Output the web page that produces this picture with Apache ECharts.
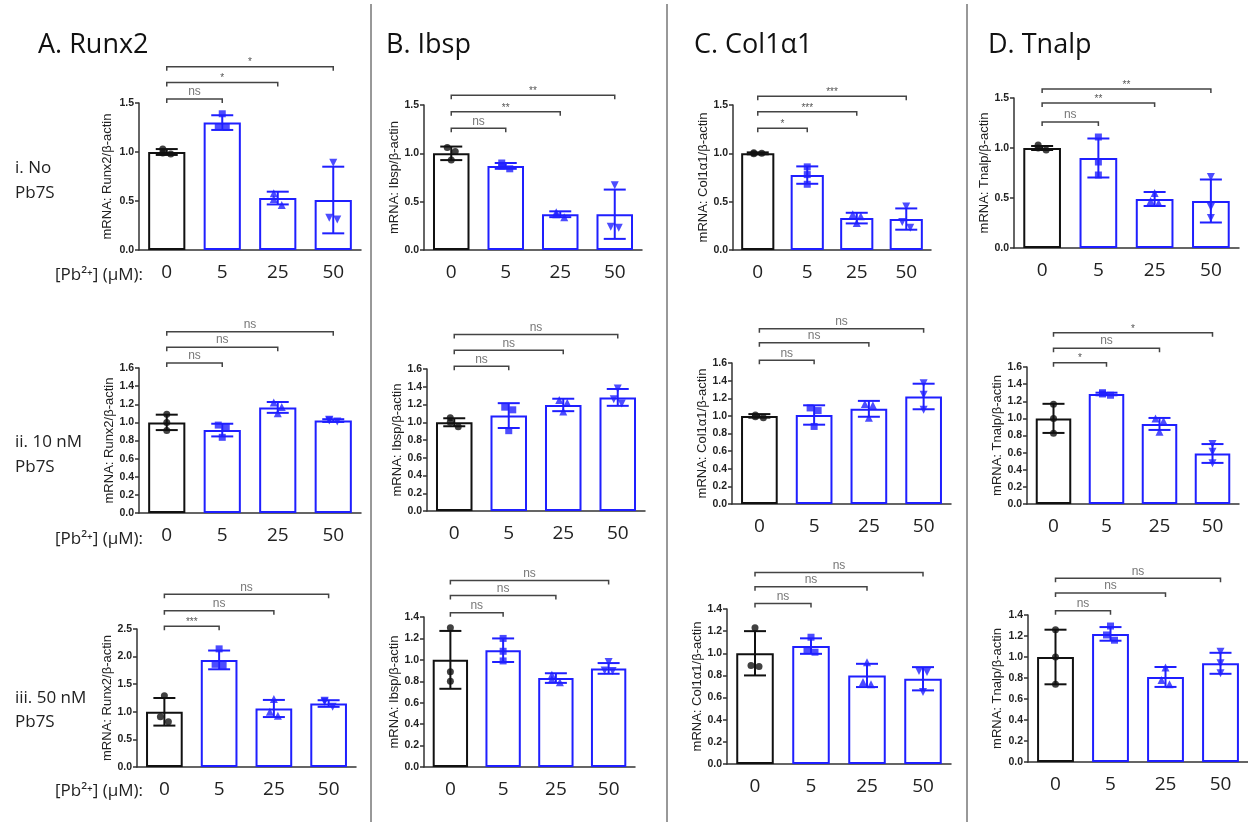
<!DOCTYPE html>
<html>
<head>
<meta charset="utf-8">
<title>mRNA expression, Pb2+ x Pb7S</title>
<script src="https://cdn.jsdelivr.net/npm/echarts@6/dist/echarts.min.js"></script>
<style>
  html, body { margin: 0; padding: 0; background: #fff; }
  #chart { width: 1248px; height: 825px; }
</style>
</head>
<body>
<div id="chart"></div>
<script>
// categories
const doses = ['0', '5', '25', '50'];
const panelTitles = ['A. Runx2', 'B. Ibsp', 'C. Col1α1', 'D. Tnalp'];
const rowTitles = [['i. No', 'Pb7S'], ['ii. 10 nM', 'Pb7S'], ['iii. 50 nM', 'Pb7S']];
const doseLabel = '[Pb²⁺] (μM):';

// row i: no Pb7S
const runx2NoMean = [1.00, 1.30, 0.53, 0.51];
const runx2NoSd = [0.03, 0.075, 0.065, 0.34];
const runx2NoPts = [[1.03, 0.99, 0.98], [1.39, 1.26, 1.25], [0.58, 0.52, 0.46], [0.89, 0.33, 0.31]];
const runx2NoSig = ['ns', '*', '*'];
const runx2NoSigY = [1.54, 1.71, 1.87];

const ibspNoMean = [1.00, 0.87, 0.37, 0.37];
const ibspNoSd = [0.07, 0.03, 0.03, 0.255];
const ibspNoPts = [[1.06, 1.02, 0.93], [0.90, 0.87, 0.84], [0.39, 0.37, 0.34], [0.67, 0.24, 0.23]];
const ibspNoSig = ['ns', '**', '**'];
const ibspNoSigY = [1.26, 1.43, 1.60];

const colNoMean = [1.00, 0.775, 0.33, 0.32];
const colNoSd = [0.01, 0.09, 0.055, 0.11];
const colNoPts = [[1.005, 0.995, 1.0], [0.86, 0.78, 0.68], [0.37, 0.35, 0.28], [0.45, 0.29, 0.23]];
const colNoSig = ['*', '***', '***'];
const colNoSigY = [1.26, 1.43, 1.59];

const tnalpNoMean = [1.00, 0.90, 0.49, 0.47];
const tnalpNoSd = [0.02, 0.195, 0.07, 0.215];
const tnalpNoPts = [[1.03, 1.0, 0.98], [1.11, 0.86, 0.73], [0.55, 0.47, 0.45], [0.71, 0.41, 0.30]];
const tnalpNoSig = ['ns', '**', '**'];
const tnalpNoSigY = [1.26, 1.45, 1.59];

// row ii: 10 nM Pb7S
const runx2TenMean = [1.00, 0.915, 1.165, 1.02];
const runx2TenSd = [0.085, 0.07, 0.06, 0.015];
const runx2TenPts = [[1.09, 1.0, 0.91], [0.97, 0.95, 0.835], [1.22, 1.17, 1.10], [1.03, 1.02, 1.01]];
const runx2TenSig = ['ns', 'ns', 'ns'];
const runx2TenSigY = [1.655, 1.83, 2.0];

const ibspTenMean = [1.00, 1.075, 1.195, 1.28];
const ibspTenSd = [0.045, 0.14, 0.07, 0.095];
const ibspTenPts = [[1.05, 1.0, 0.95], [1.17, 1.14, 0.905], [1.25, 1.22, 1.12], [1.38, 1.26, 1.21]];
const ibspTenSig = ['ns', 'ns', 'ns'];
const ibspTenSigY = [1.63, 1.81, 1.99];

const colTenMean = [1.00, 1.01, 1.08, 1.22];
const colTenSd = [0.02, 0.11, 0.09, 0.145];
const colTenPts = [[1.01, 0.99, 0.98], [1.09, 1.06, 0.88], [1.135, 1.12, 0.98], [1.37, 1.24, 1.07]];
const colTenSig = ['ns', 'ns', 'ns'];
const colTenSigY = [1.63, 1.83, 1.99];

const tnalpTenMean = [1.00, 1.285, 0.935, 0.59];
const tnalpTenSd = [0.17, 0.015, 0.07, 0.11];
const tnalpTenPts = [[1.165, 1.0, 0.826], [1.30, 1.285, 1.27], [1.0, 0.97, 0.845], [0.70, 0.61, 0.475]];
const tnalpTenSig = ['*', 'ns', '*'];
const tnalpTenSigY = [1.65, 1.82, 2.0];

// row iii: 50 nM Pb7S
const runx2FiftyMean = [1.00, 1.94, 1.06, 1.15];
const runx2FiftySd = [0.25, 0.17, 0.155, 0.06];
const runx2FiftyPts = [[1.29, 0.91, 0.82], [2.14, 1.86, 1.84], [1.23, 1.0, 0.93], [1.20, 1.18, 1.09]];
const runx2FiftySig = ['***', 'ns', 'ns'];
const runx2FiftySigY = [2.55, 2.83, 3.13];

const ibspFiftyMean = [1.00, 1.09, 0.83, 0.92];
const ibspFiftySd = [0.27, 0.11, 0.045, 0.05];
const ibspFiftyPts = [[1.30, 0.89, 0.80], [1.20, 1.08, 0.99], [0.86, 0.82, 0.79], [0.98, 0.90, 0.895]];
const ibspFiftySig = ['ns', 'ns', 'ns'];
const ibspFiftySigY = [1.44, 1.60, 1.74];

const colFiftyMean = [1.00, 1.065, 0.80, 0.77];
const colFiftySd = [0.20, 0.07, 0.105, 0.105];
const colFiftyPts = [[1.23, 0.89, 0.88], [1.145, 1.03, 1.01], [0.92, 0.74, 0.72], [0.84, 0.83, 0.65]];
const colFiftySig = ['ns', 'ns', 'ns'];
const colFiftySigY = [1.45, 1.60, 1.73];

const tnalpFiftyMean = [1.00, 1.22, 0.81, 0.94];
const tnalpFiftySd = [0.26, 0.065, 0.095, 0.10];
const tnalpFiftyPts = [[1.26, 1.0, 0.74], [1.295, 1.21, 1.16], [0.90, 0.78, 0.74], [1.05, 0.94, 0.845]];
const tnalpFiftySig = ['ns', 'ns', 'ns'];
const tnalpFiftySigY = [1.44, 1.61, 1.75];

// y axis ranges, row by row
const yMaxes = [[1.5, 1.5, 1.5, 1.5], [1.6, 1.6, 1.6, 1.6], [2.5, 1.4, 1.4, 1.4]];
const ySteps = [[0.5, 0.5, 0.5, 0.5], [0.2, 0.2, 0.2, 0.2], [0.5, 0.2, 0.2, 0.2]];
const yNames = ['mRNA: Runx2/β-actin', 'mRNA: Ibsp/β-actin', 'mRNA: Col1α1/β-actin', 'mRNA: Tnalp/β-actin'];

const panels = [
  [runx2NoMean, runx2NoSd, runx2NoPts, runx2NoSig, runx2NoSigY],
  [ibspNoMean, ibspNoSd, ibspNoPts, ibspNoSig, ibspNoSigY],
  [colNoMean, colNoSd, colNoPts, colNoSig, colNoSigY],
  [tnalpNoMean, tnalpNoSd, tnalpNoPts, tnalpNoSig, tnalpNoSigY],
  [runx2TenMean, runx2TenSd, runx2TenPts, runx2TenSig, runx2TenSigY],
  [ibspTenMean, ibspTenSd, ibspTenPts, ibspTenSig, ibspTenSigY],
  [colTenMean, colTenSd, colTenPts, colTenSig, colTenSigY],
  [tnalpTenMean, tnalpTenSd, tnalpTenPts, tnalpTenSig, tnalpTenSigY],
  [runx2FiftyMean, runx2FiftySd, runx2FiftyPts, runx2FiftySig, runx2FiftySigY],
  [ibspFiftyMean, ibspFiftySd, ibspFiftyPts, ibspFiftySig, ibspFiftySigY],
  [colFiftyMean, colFiftySd, colFiftyPts, colFiftySig, colFiftySigY],
  [tnalpFiftyMean, tnalpFiftySd, tnalpFiftyPts, tnalpFiftySig, tnalpFiftySigY]
];

// plot boxes [left, top, width, height, nameGap]
const boxes = [
  [139, 103, 222, 147, 25], [424, 105, 218, 145, 19], [733, 105, 198, 145, 23], [1014, 98, 225, 150, 20],
  [139, 368, 222, 145, 22], [427, 369, 218, 142, 18], [732, 363, 219, 141, 20], [1027, 367, 212, 137, 22],
  [137, 629, 219, 138, 18], [424, 617, 211, 150, 19], [727, 609, 224, 155, 23], [1028, 615, 220, 147, 24]
];

const BLACK = '#111';
const BLUE = '#1f1fff';
const textFont = "'Open Sans', 'DejaVu Sans', sans-serif";
const axisFont = "'Liberation Sans', Arial, sans-serif";
const markerShapes = ['circle', 'rect', 'triangle', 'path://M0,0L10,0L5,9Z'];

let myChart = echarts.init(document.getElementById('chart'), null, { renderer: 'canvas' });

function errorBarItem(params, api) {
    let k = api.value(0);
    let lo = api.coord([k, api.value(1)]);
    let hi = api.coord([k, api.value(2)]);
    let col = k === 0 ? BLACK : BLUE;
    let half = 11;
    let st = { stroke: col, lineWidth: 2 };
    return {
        type: 'group',
        children: [
            { type: 'line', shape: { x1: lo[0], y1: lo[1], x2: hi[0], y2: hi[1] }, style: st },
            { type: 'line', shape: { x1: lo[0] - half, y1: lo[1], x2: lo[0] + half, y2: lo[1] }, style: st },
            { type: 'line', shape: { x1: hi[0] - half, y1: hi[1], x2: hi[0] + half, y2: hi[1] }, style: st }
        ]
    };
}

function makeBracket(labels) {
    return function (params, api) {
        let x1 = api.coord([api.value(0), 0])[0];
        let x2 = api.coord([api.value(1), 0])[0];
        let y = api.coord([0, api.value(2)])[1];
        let lab = labels[params.dataIndex];
        let isNs = lab === 'ns';
        return {
            type: 'group',
            children: [
                {
                    type: 'polyline',
                    shape: { points: [[x1, y + 4], [x1, y], [x2, y], [x2, y + 4]] },
                    style: { stroke: '#444', lineWidth: 1.5, fill: null }
                },
                {
                    type: 'text',
                    x: (x1 + x2) / 2,
                    y: isNs ? y - 1 : y + 1,
                    style: {
                        text: lab,
                        align: 'center',
                        verticalAlign: 'bottom',
                        fontFamily: axisFont,
                        fontSize: isNs ? 12 : 10,
                        fill: isNs ? '#777' : '#555'
                    }
                }
            ]
        };
    };
}

let grids = [], xAxes = [], yAxes = [], series = [];

panels.forEach(function (p, i) {
    let row = Math.floor(i / 4), col = i % 4;
    let b = boxes[i];
    let mean = p[0], sd = p[1], pts = p[2], sig = p[3], sigY = p[4];
    let yMax = yMaxes[row][col];

    grids.push({ left: b[0], top: b[1], width: b[2], height: b[3] });
    xAxes.push({
        type: 'category',
        gridIndex: i,
        data: doses,
        axisLine: { lineStyle: { color: '#333', width: 1.5 } },
        axisTick: { alignWithLabel: true, length: 5, lineStyle: { color: '#333', width: 1.5 } },
        axisLabel: { color: '#222', fontSize: 19, fontFamily: textFont, margin: 13 }
    });
    yAxes.push({
        type: 'value',
        gridIndex: i,
        min: 0,
        max: yMax,
        interval: ySteps[row][col],
        name: yNames[col],
        nameLocation: 'middle',
        nameRotate: 90,
        nameGap: b[4],
        nameTextStyle: { color: '#222', fontSize: 13, fontFamily: axisFont },
        splitLine: { show: false },
        axisLine: { show: true, lineStyle: { color: '#333', width: 1.5 } },
        axisTick: { show: true, length: 4, lineStyle: { color: '#333', width: 1.5 } },
        axisLabel: {
            color: '#222', fontSize: 10.5, fontWeight: 'bold', fontFamily: axisFont, margin: 5,
            formatter: function (v) { return v.toFixed(1); }
        }
    });

    series.push({
        type: 'bar',
        xAxisIndex: i,
        yAxisIndex: i,
        barWidth: '67%',
        silent: true,
        z: 2,
        data: mean.map(function (v, k) {
            return { value: v, itemStyle: { color: '#fff', borderColor: k === 0 ? BLACK : BLUE, borderWidth: 2 } };
        })
    });
    series.push({
        type: 'custom',
        xAxisIndex: i,
        yAxisIndex: i,
        silent: true,
        z: 3,
        renderItem: errorBarItem,
        data: mean.map(function (m, k) { return [k, m - sd[k], m + sd[k]]; })
    });
    // spread points sideways when they would sit on top of each other
    let near = 6 / b[3] * yMax;
    let scatterData = [];
    pts.forEach(function (arr, k) {
        arr.forEach(function (v, j) {
            let dx = 0;
            arr.forEach(function (w, m) {
                if (m !== j && Math.abs(w - v) < near) dx = m < j ? 4 : -4;
            });
            scatterData.push({ value: [k, v], symbolOffset: [dx, 0] });
        });
    });
    series.push({
        type: 'scatter',
        xAxisIndex: i,
        yAxisIndex: i,
        silent: true,
        z: 4,
        symbol: function (val) { return markerShapes[val[0]]; },
        symbolSize: function (val) { return val[0] >= 2 ? 8 : 7; },
        itemStyle: { color: function (params) { return params.value[0] === 0 ? BLACK : BLUE; } },
        data: scatterData
    });
    series.push({
        type: 'custom',
        xAxisIndex: i,
        yAxisIndex: i,
        silent: true,
        clip: false,
        z: 5,
        renderItem: makeBracket(sig),
        data: sig.map(function (s, k) { return [0, k + 1, sigY[k]]; })
    });
});

let graphics = [];
// panel titles
[38, 386, 694, 988].forEach(function (x, c) {
    graphics.push({
        type: 'text', x: x, y: 45,
        style: { text: panelTitles[c], fontSize: 27, fontFamily: textFont, fill: '#111', align: 'left', verticalAlign: 'middle' }
    });
});
// row labels
[[168, 193], [442, 467], [698, 722]].forEach(function (ys, r) {
    ys.forEach(function (y, l) {
        graphics.push({
            type: 'text', x: 15, y: y,
            style: { text: rowTitles[r][l], fontSize: 17, fontFamily: textFont, fill: '#222', align: 'left', verticalAlign: 'middle' }
        });
    });
});
// dose axis labels
[275, 539, 791].forEach(function (y) {
    graphics.push({
        type: 'text', x: 143, y: y,
        style: { text: doseLabel, fontSize: 17, fontFamily: textFont, fill: '#222', align: 'right', verticalAlign: 'middle' }
    });
});
// separators between columns
[371, 667, 967].forEach(function (x) {
    graphics.push({
        type: 'line',
        shape: { x1: x, y1: 4, x2: x, y2: 822 },
        style: { stroke: '#333', lineWidth: 1 }
    });
});

let option = {
    animation: false,
    backgroundColor: '#fff',
    grid: grids,
    xAxis: xAxes,
    yAxis: yAxes,
    series: series,
    graphic: graphics
};
myChart.setOption(option);
window.onresize = function () {
    myChart.resize();
};
</script>
</body>
</html>
